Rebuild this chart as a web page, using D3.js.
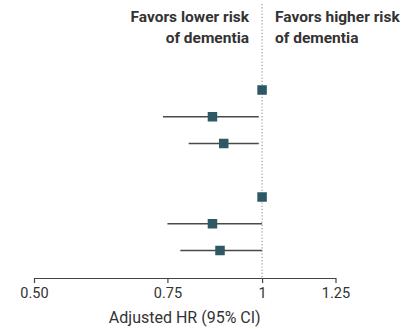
<!DOCTYPE html>
<html>
<head>
<meta charset="utf-8">
<script src="https://cdn.jsdelivr.net/npm/d3@7"></script>
<style>
  html, body { margin: 0; padding: 0; background: #fff; }
  svg { display: block; }
  text { font-family: "Liberation Sans Narrow", "Roboto", "Noto Sans", sans-serif; }
</style>
</head>
<body>
<svg id="chart" width="410" height="329"></svg>
<script>
// Rows of the forest plot (blank slot separates the two groups)
const rows = ["g1_ref", "g1_b", "g1_c", "", "g2_ref", "g2_b", "g2_c"];
// Adjusted hazard ratios and 95% confidence limits
const hr    = [1.00, 0.86, 0.89, null, 1.00, 0.86, 0.88];
const lower = [null, 0.74, 0.80, null, null, 0.75, 0.78];
const upper = [null, 0.99, 0.99, null, null, 1.00, 1.00];
// Axis ticks
const tickValues = [0.5, 0.75, 1, 1.25];
const tickLabels = ["0.50", "0.75", "1", "1.25"];

const svg = d3.select("#chart");

const x = d3.scaleLog().domain([0.5, 1.25]).range([34, 335.5]);
const y = d3.scalePoint().domain(rows.map((r, i) => i)).range([90, 250.5]);
const axisY = 278;

const data = rows.map((r, i) => ({ row: r, i, hr: hr[i], lo: lower[i], hi: upper[i] }))
  .filter(d => d.hr != null);

// Reference line at HR = 1
svg.append("line")
  .attr("x1", x(1)).attr("x2", x(1))
  .attr("y1", 4).attr("y2", axisY)
  .attr("stroke", "#9a9a9a")
  .attr("stroke-width", 1.2)
  .attr("stroke-dasharray", "1.2,2");

// Confidence intervals
svg.append("g").selectAll("line")
  .data(data.filter(d => d.lo != null))
  .join("line")
  .attr("x1", d => x(d.lo)).attr("x2", d => x(d.hi))
  .attr("y1", d => y(d.i)).attr("y2", d => y(d.i))
  .attr("stroke", "#4a4a4a")
  .attr("stroke-width", 1.6);

// Point estimates
const sq = 9.5;
svg.append("g").selectAll("rect")
  .data(data)
  .join("rect")
  .attr("x", d => x(d.hr) - sq / 2)
  .attr("y", d => y(d.i) - sq / 2)
  .attr("width", sq).attr("height", sq)
  .attr("fill", "#2e5864");

// X axis
const axis = d3.axisBottom(x)
  .tickValues(tickValues)
  .tickFormat((d, i) => tickLabels[i])
  .tickSize(5)
  .tickSizeOuter(0);
const gx = svg.append("g")
  .attr("transform", `translate(0,${axisY})`)
  .call(axis);
gx.select(".domain").attr("stroke", "#444").attr("stroke-width", 1.2);
gx.selectAll(".tick line").attr("stroke", "#444").attr("stroke-width", 1.2);
gx.selectAll(".tick text")
  .attr("y", 10)
  .attr("dy", "0.71em")
  .attr("fill", "#333")
  .style("font-size", "14.5px")
  .style("font-family", "\"Liberation Sans Narrow\", Roboto, sans-serif");

// Axis title
svg.append("text")
  .attr("x", (x.range()[0] + x.range()[1]) / 2)
  .attr("y", 323)
  .attr("text-anchor", "middle")
  .attr("fill", "#333")
  .style("font-size", "16px")
  .text("Adjusted HR (95% CI)");

// Direction headers
const header = svg.append("g")
  .attr("fill", "#333")
  .style("font-size", "15.5px")
  .style("font-weight", "bold");
const left = header.append("text").attr("text-anchor", "end");
left.append("tspan").attr("x", x(1) - 13).attr("y", 21.5).text("Favors lower risk");
left.append("tspan").attr("x", x(1) - 13).attr("y", 43).text("of dementia");
const right = header.append("text").attr("text-anchor", "start");
right.append("tspan").attr("x", x(1) + 13).attr("y", 21.5).text("Favors higher risk");
right.append("tspan").attr("x", x(1) + 13).attr("y", 43).text("of dementia");
</script>
</body>
</html>
